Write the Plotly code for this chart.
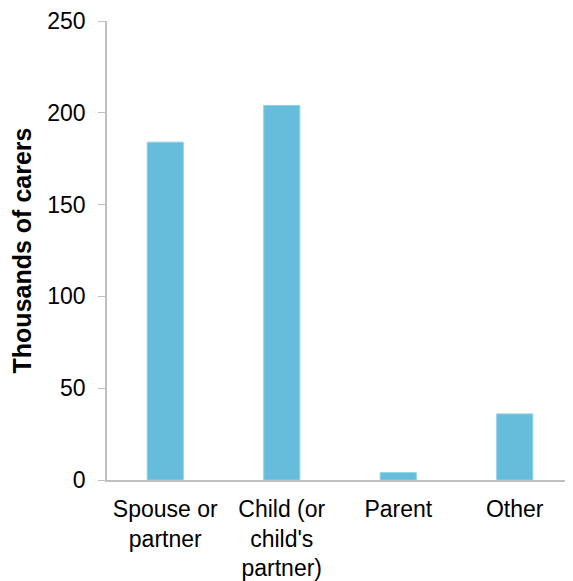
import plotly.graph_objects as go

categories = ["Spouse or<br>partner", "Child (or<br>child's<br>partner)", "Parent", "Other"]
values = [184, 204, 4, 36]
y_ticks = [0, 50, 100, 150, 200, 250]

fig = go.Figure()
fig.add_trace(go.Bar(
    x=categories, y=values,
    marker=dict(color="#65BCDB", line=dict(color="#8ED0E8", width=1)),
    width=0.31,
))

# page body has an 8px margin, so the figure is offset by (8, 8)
fig.update_layout(
    width=565, height=573,
    margin=dict(l=99, r=0, t=12, b=100),
    paper_bgcolor="white", plot_bgcolor="white",
    font=dict(family="Liberation Sans, Arial, sans-serif", size=23, color="black"),
    showlegend=False,
    xaxis=dict(
        showline=True, linecolor="#BFBFBF", linewidth=2,
        ticks="", showgrid=False, tickfont=dict(size=23),
        range=[-0.5, 3.5], ticklabelstandoff=7,
    ),
    yaxis=dict(
        range=[0, 250], tickvals=y_ticks,
        showline=True, linecolor="#BFBFBF", linewidth=1.5,
        ticks="outside", ticklen=7, tickcolor="#BFBFBF",
        showgrid=False, zeroline=False,
        ticklabelstandoff=8, ticklabeloverflow="allow",
        title=dict(text="<b>Thousands of carers</b>", font=dict(size=25), standoff=14),
    ),
)

fig.write_html("out.html")
